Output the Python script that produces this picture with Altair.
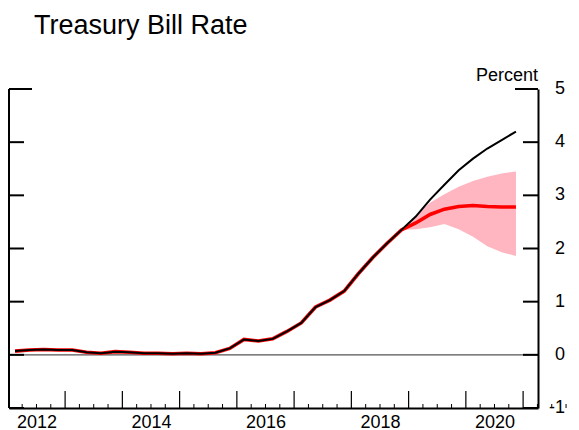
import altair as alt
import pandas as pd

# ---- data -------------------------------------------------------------
hist_quarters = [f"{y}Q{q}" for y in range(2012, 2019) for q in range(1, 5)]
hist_values = [0.07, 0.09, 0.10, 0.09,
               0.09, 0.05, 0.03, 0.06,
               0.05, 0.03, 0.03, 0.02,
               0.03, 0.02, 0.04, 0.12,
               0.29, 0.26, 0.30, 0.44,
               0.60, 0.90, 1.03, 1.20,
               1.53, 1.83, 2.10, 2.35]

fc_quarters = ["2019Q1", "2019Q2", "2019Q3", "2019Q4",
               "2020Q1", "2020Q2", "2020Q3", "2020Q4"]
black_path = [2.60, 2.92, 3.20, 3.47, 3.69, 3.88, 4.04, 4.20]
red_median = [2.48, 2.64, 2.74, 2.79, 2.81, 2.79, 2.78, 2.78]

band_quarters = ["2018Q4"] + fc_quarters
band_upper = [2.35, 2.62, 2.86, 3.02, 3.16, 3.27, 3.35, 3.41, 3.45]
band_lower = [2.35, 2.36, 2.40, 2.46, 2.36, 2.22, 2.04, 1.93, 1.86]

y_ticks = [-1, 0, 1, 2, 3, 4]
y_top = [5]
y_labels = ["-1", "0", "1", "2", "3", "4", "5"]
year_ticks = list(range(2013, 2022))
quarter_ticks = [y + q / 4 for y in range(2012, 2022) for q in (1, 2, 3)]
label_years = [2012, 2014, 2016, 2018, 2020]
title_text = "Treasury Bill Rate"
unit_text = "Percent"


def qpos(q):
    y, n = q.split("Q")
    return int(y) + (int(n) - 0.5) / 4


W, H = 529, 319
FONT = "Liberation Sans"

hist = pd.DataFrame({"t": [qpos(q) for q in hist_quarters], "v": hist_values})
black = pd.concat([hist, pd.DataFrame({"t": [qpos(q) for q in fc_quarters], "v": black_path})])
red = pd.concat([hist, pd.DataFrame({"t": [qpos(q) for q in fc_quarters], "v": red_median})])
band = pd.DataFrame({"t": [qpos(q) for q in band_quarters], "lo": band_lower, "hi": band_upper})

xscale = alt.Scale(domain=[2012.02, 2021.26], nice=False, zero=False)
yscale = alt.Scale(domain=[-1, 5], nice=False, zero=False)

x_axis = alt.Axis(values=[y + 0.5 for y in label_years], labelExpr="floor(datum.value)",
                  ticks=False, grid=False, title=None, domainColor="black", domainWidth=2,
                  labelFontSize=18, labelFont=FONT, labelColor="black", labelPadding=5,
                  labelFlush=False, labelOverlap=False)
y_axis = alt.Axis(orient="right", values=y_ticks + y_top, labels=False,
                  ticks=False, grid=False, domainColor="black", domainWidth=2, title=None)

base_x = alt.X("t:Q", scale=xscale, axis=x_axis)

band_layer = alt.Chart(band).mark_area(color="#ffb6c1", opacity=1).encode(
    x=base_x, y=alt.Y("lo:Q", scale=yscale, axis=y_axis), y2="hi:Q")

zero_layer = alt.Chart(pd.DataFrame({"z": [0]})).mark_rule(color="#555555", strokeWidth=1.2).encode(
    y=alt.Y("z:Q", scale=yscale), x=alt.value(0), x2=alt.value(W))

red_layer = alt.Chart(red).mark_line(color="#ff0000", strokeWidth=3.6).encode(
    x=alt.X("t:Q", scale=xscale), y=alt.Y("v:Q", scale=yscale))
black_layer = alt.Chart(black).mark_line(color="black", strokeWidth=2).encode(
    x=alt.X("t:Q", scale=xscale), y=alt.Y("v:Q", scale=yscale))

left_line = alt.Chart(pd.DataFrame({"a": [0]})).mark_rule(color="black", strokeWidth=2).encode(
    x=alt.value(0), y=alt.value(0), y2=alt.value(H))

yt = pd.DataFrame({"v": y_ticks})
y5 = pd.DataFrame({"v": y_top})
ytick_l = alt.Chart(yt).mark_rule(color="black", strokeWidth=2).encode(
    y=alt.Y("v:Q", scale=yscale), x=alt.value(0), x2=alt.value(15))
ytick_r = alt.Chart(yt).mark_rule(color="black", strokeWidth=2).encode(
    y=alt.Y("v:Q", scale=yscale), x=alt.value(W - 15), x2=alt.value(W))
ytop_l = alt.Chart(y5).mark_rule(color="black", strokeWidth=2).encode(
    y=alt.Y("v:Q", scale=yscale), x=alt.value(0), x2=alt.value(23))
ytop_r = alt.Chart(y5).mark_rule(color="black", strokeWidth=2).encode(
    y=alt.Y("v:Q", scale=yscale), x=alt.value(W - 23), x2=alt.value(W))

xt_big = alt.Chart(pd.DataFrame({"t": year_ticks})).mark_rule(color="black", strokeWidth=1.2).encode(
    x=alt.X("t:Q", scale=xscale), y=alt.value(H - 17), y2=alt.value(H))
xt_small = alt.Chart(pd.DataFrame({"t": quarter_ticks})).mark_rule(color="black", strokeWidth=1).encode(
    x=alt.X("t:Q", scale=xscale), y=alt.value(H - 4), y2=alt.value(H))

ylab_layer = alt.Chart(pd.DataFrame({"v": y_ticks + y_top, "s": y_labels})).mark_text(
    font=FONT, fontSize=18, align="right", baseline="middle", color="black"
).encode(text="s:N", y=alt.Y("v:Q", scale=yscale), x=alt.value(W + 27))

unit_layer = alt.Chart(pd.DataFrame({"s": [unit_text]})).mark_text(
    font=FONT, fontSize=18, align="center", baseline="alphabetic", color="black"
).encode(text="s:N", x=alt.value(W - 31), y=alt.value(-8))

title_layer = alt.Chart(pd.DataFrame({"s": [title_text]})).mark_text(
    font=FONT, fontSize=27, align="left", baseline="alphabetic", color="black"
).encode(text="s:N", x=alt.value(25), y=alt.value(-55))

chart = alt.layer(
    band_layer, zero_layer, red_layer, black_layer, left_line,
    ytick_l, ytick_r, ytop_l, ytop_r, xt_big, xt_small,
    ylab_layer, unit_layer, title_layer
).properties(
    width=W, height=H,
    autosize=alt.AutoSizeParams(type="none"),
    padding={"left": 1, "top": 81, "right": 32, "bottom": 26},
).configure_view(stroke=None)

chart.save("out.html", embed_options={"renderer": "svg", "actions": False})
